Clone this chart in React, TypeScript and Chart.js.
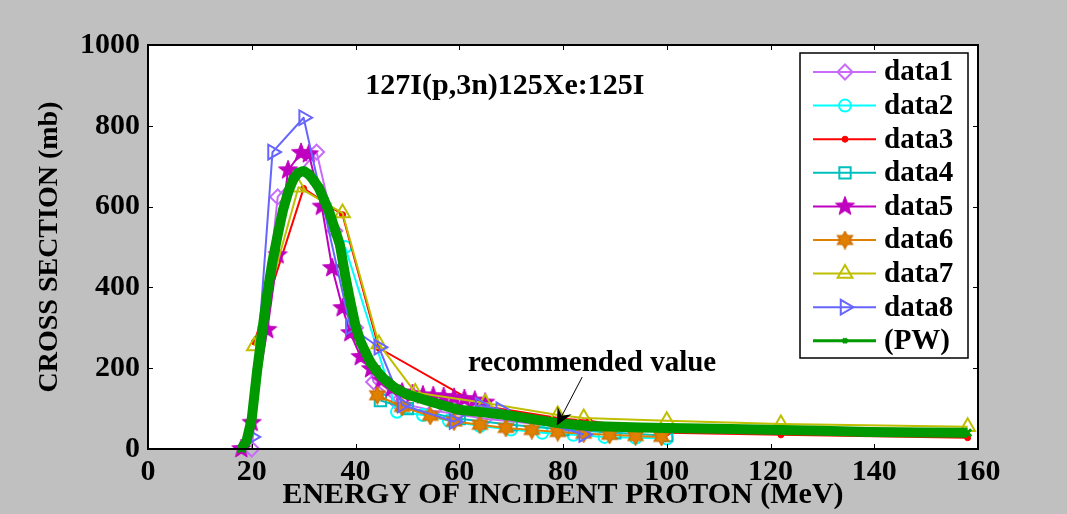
import React, { useEffect, useRef } from 'react';
import { Chart, registerables } from 'chart.js';
import { drawPoint } from 'chart.js/helpers';

Chart.register(...registerables);

const FONT = '"Liberation Serif", "Times New Roman", serif';

// ---------- data ----------
const xTicks = [0, 20, 40, 60, 80, 100, 120, 140, 160];
const yTicks = [0, 200, 400, 600, 800, 1000];

const seriesLabels = ['data1', 'data2', 'data3', 'data4', 'data5', 'data6', 'data7', 'data8', '(PW)'];
const chartTitle = '127I(p,3n)125Xe:125I';
const annotationText = 'recommended value';
const xAxisTitle = 'ENERGY OF INCIDENT PROTON (MeV)';
const yAxisTitle = 'CROSS SECTION (mb)';

const data1X = [20, 25, 32.5, 36, 40, 43.5, 48, 55, 65, 80];
const data1Y = [0, 624, 735, 540, 300, 166, 115, 95, 75, 55];

const data2X = [38, 48, 53, 58, 64, 70, 76, 82, 88, 94, 100];
const data2Y = [500, 92, 84, 70, 57, 48, 40, 35, 30, 28, 26];

const data3X = [20.5, 30, 37.5, 44.5, 64, 80, 85, 100, 122, 158];
const data3Y = [265, 645, 580, 250, 108, 75, 70, 40, 35, 28];

const data4X = [44.8, 50, 60, 70, 80, 90, 100];
const data4Y = [120, 100, 75, 60, 48, 40, 33];

const data5X = [18, 20, 23, 25, 27, 29.5, 31, 33.5, 35.5, 37.5, 39, 41, 43, 45, 47, 49, 51, 53, 55, 57, 59, 61, 63, 65];
const data5Y = [0, 65, 295, 480, 690, 733, 730, 600, 448, 349, 287, 228, 198, 170, 150, 140, 136, 133, 131, 129, 127, 124, 120, 115];

const data6X = [44.2, 49, 54.4, 59, 64, 69, 74, 79, 84, 89, 94, 99];
const data6Y = [133, 104, 82, 68, 60, 52, 47, 42, 38, 35, 32, 30];

const data7X = [20.5, 29, 37.5, 44.5, 51.5, 65, 79, 84, 100, 122, 158];
const data7Y = [255, 648, 584, 260, 140, 114, 84, 77, 70, 62, 55];

const data8X = [20, 24, 30, 39, 44.5, 49, 59, 64, 68, 84];
const data8Y = [30, 735, 820, 302, 252, 109, 68, 108, 97, 36];

const pwX = [18, 19, 20, 21, 22, 23, 24, 25, 26, 27, 28, 29, 30, 31, 32, 33, 34, 35, 36, 37, 38, 39, 40, 41, 42, 43, 44, 45, 46, 47, 48, 50, 52, 55, 58, 60, 65, 69, 75, 79, 85, 90, 95, 100, 110, 122, 130, 139, 150, 158];
const pwY = [0, 20, 75, 190, 290, 385, 465, 530, 590, 635, 668, 684, 688, 680, 664, 645, 615, 585, 545, 505, 430, 365, 305, 265, 238, 212, 195, 180, 168, 157, 148, 135, 127, 115, 104, 97, 90, 84, 72, 64, 57, 55, 53, 52, 50, 47, 45, 42, 41, 40];

// annotation anchor (data coords)
const titlePos = [68.8, 898];
const notePos = [85.6, 212];
const arrowFrom = [83.7, 178];
const arrowTo = [78.8, 58];

// ---------- marker images ----------
function starCanvas(points: number, size: number, outer: number, inner: number, fill: string | null, stroke: string | null, lw: number) {
  const c = document.createElement('canvas');
  c.width = size;
  c.height = size;
  const g = c.getContext('2d')!;
  const cx = size / 2, cy = size / 2;
  g.beginPath();
  for (let i = 0; i < points * 2; i++) {
    const r = i % 2 === 0 ? outer : inner;
    const a = -Math.PI / 2 + (i * Math.PI) / points;
    const px = cx + r * Math.cos(a), py = cy + r * Math.sin(a);
    if (i === 0) g.moveTo(px, py); else g.lineTo(px, py);
  }
  g.closePath();
  if (fill) { g.fillStyle = fill; g.fill(); }
  if (stroke) { g.strokeStyle = stroke; g.lineWidth = lw; g.stroke(); }
  return c;
}

const pentagram = starCanvas(5, 22, 10, 4.2, '#bf00bf', '#bf00bf', 1);
const hexagram = starCanvas(6, 19, 8.5, 4.8, '#e08000', '#d07000', 1.5);

const zip = (xs: number[], ys: number[]) => xs.map((x, i) => ({ x, y: ys[i] }));

function App() {
  const ref = useRef<HTMLCanvasElement | null>(null);

  useEffect(() => {
    if (!ref.current) return;
    const clear = 'rgba(0,0,0,0)';
    const base = (label: string, xs: number[], ys: number[], color: string, extra: any) => ({
      label,
      data: zip(xs, ys),
      borderColor: color,
      backgroundColor: color,
      borderWidth: 2,
      pointBorderColor: color,
      pointBackgroundColor: clear,
      pointBorderWidth: 2,
      pointRadius: 6,
      tension: 0,
      clip: false,
      ...extra,
    });

    const datasets: any[] = [
      base(seriesLabels[0], data1X, data1Y, '#c86bfa', { pointStyle: 'rectRot', pointRadius: 7.5 }),
      base(seriesLabels[1], data2X, data2Y, '#00ffff', { pointStyle: 'circle', pointRadius: 6 }),
      base(seriesLabels[2], data3X, data3Y, '#ff0000', { pointStyle: 'circle', pointRadius: 3, pointBackgroundColor: '#ff0000', pointBorderWidth: 1 }),
      base(seriesLabels[3], data4X, data4Y, '#00bfbf', { pointStyle: 'rect', pointRadius: 8 }),
      base(seriesLabels[4], data5X, data5Y, '#bf00bf', { pointStyle: pentagram, pointRadius: 10 }),
      base(seriesLabels[5], data6X, data6Y, '#e08000', { pointStyle: hexagram, pointRadius: 9 }),
      base(seriesLabels[6], data7X, data7Y, '#bfbf00', { pointStyle: 'triangle', pointRadius: 8.5 }),
      base(seriesLabels[7], data8X, data8Y, '#6666ff', { pointStyle: 'triangle', pointRotation: 90, pointRadius: 8.5 }),
      base(seriesLabels[8], pwX, pwY, '#009900', { pointStyle: 'crossRot', pointRadius: 5, pointBorderWidth: 3, borderWidth: 10, legendLineWidth: 3, legendRadius: 3 }),
    ];
    datasets.forEach((d, i) => { d.order = datasets.length - 1 - i; });

    const bgPlugin = {
      id: 'plotBg',
      beforeDatasetsDraw(chart: any) {
        const { ctx, chartArea: a } = chart;
        ctx.save();
        ctx.fillStyle = '#ffffff';
        ctx.fillRect(a.left, a.top, a.right - a.left, a.bottom - a.top);
        ctx.restore();
      },
    };

    const framePlugin = {
      id: 'frame',
      afterDatasetsDraw(chart: any) {
        const { ctx, chartArea: a, scales } = chart;
        ctx.save();
        ctx.strokeStyle = '#000';
        ctx.lineWidth = 1;
        const tl = 5;
        xTicks.forEach((v) => {
          const px = Math.round(scales.x.getPixelForValue(v)) + 0.5;
          ctx.beginPath();
          ctx.moveTo(px, a.bottom); ctx.lineTo(px, a.bottom - tl);
          ctx.moveTo(px, a.top); ctx.lineTo(px, a.top + tl);
          ctx.stroke();
        });
        yTicks.forEach((v) => {
          const py = Math.round(scales.y.getPixelForValue(v)) + 0.5;
          ctx.beginPath();
          ctx.moveTo(a.left, py); ctx.lineTo(a.left + tl, py);
          ctx.moveTo(a.right, py); ctx.lineTo(a.right - tl, py);
          ctx.stroke();
        });
        ctx.lineWidth = 2;
        ctx.strokeRect(a.left, a.top, a.right - a.left, a.bottom - a.top);

        // title inside plot
        ctx.fillStyle = '#000';
        ctx.font = `bold 30px ${FONT}`;
        ctx.textAlign = 'center';
        ctx.textBaseline = 'middle';
        ctx.fillText(chartTitle, scales.x.getPixelForValue(titlePos[0]), scales.y.getPixelForValue(titlePos[1]));

        // recommended value annotation
        ctx.font = `bold 29px ${FONT}`;
        ctx.fillText(annotationText, scales.x.getPixelForValue(notePos[0]), scales.y.getPixelForValue(notePos[1]));
        const x1 = scales.x.getPixelForValue(arrowFrom[0]);
        const y1 = scales.y.getPixelForValue(arrowFrom[1]);
        const x2 = scales.x.getPixelForValue(arrowTo[0]);
        const y2 = scales.y.getPixelForValue(arrowTo[1]);
        const ang = Math.atan2(y2 - y1, x2 - x1);
        const hl = 17, hw = 8, back = 11;
        ctx.lineWidth = 1;
        ctx.beginPath();
        ctx.moveTo(x1, y1);
        ctx.lineTo(x2 - back * Math.cos(ang), y2 - back * Math.sin(ang));
        ctx.stroke();
        const bx = x2 - hl * Math.cos(ang), by = y2 - hl * Math.sin(ang);
        const nx = -Math.sin(ang), ny = Math.cos(ang);
        ctx.beginPath();
        ctx.moveTo(x2, y2);
        ctx.lineTo(bx + hw * nx, by + hw * ny);
        ctx.lineTo(x2 - back * Math.cos(ang), y2 - back * Math.sin(ang));
        ctx.lineTo(bx - hw * nx, by - hw * ny);
        ctx.closePath();
        ctx.fill();
        ctx.restore();
      },
    };

    const legendPlugin = {
      id: 'matlabLegend',
      afterDraw(chart: any) {
        const { ctx, chartArea: a } = chart;
        const x0 = a.right - 178, y0 = a.top + 8, w = 168, h = 305;
        ctx.save();
        ctx.fillStyle = '#fff';
        ctx.fillRect(x0, y0, w, h);
        ctx.strokeStyle = '#000';
        ctx.lineWidth = 1.5;
        ctx.strokeRect(x0, y0, w, h);
        chart.data.datasets.forEach((ds: any, i: number) => {
          const y = y0 + 19 + i * 33.6;
          ctx.strokeStyle = ds.borderColor;
          ctx.lineWidth = ds.legendLineWidth || 2;
          ctx.beginPath();
          ctx.moveTo(x0 + 13, y);
          ctx.lineTo(x0 + 76, y);
          ctx.stroke();
          ctx.strokeStyle = ds.pointBorderColor;
          ctx.fillStyle = ds.pointBackgroundColor;
          ctx.lineWidth = ds.pointBorderWidth;
          drawPoint(ctx, {
            pointStyle: ds.pointStyle,
            rotation: ds.pointRotation || 0,
            radius: ds.legendRadius || ds.pointRadius,
            borderWidth: ds.pointBorderWidth,
          } as any, x0 + 45, y);
          ctx.fillStyle = '#000';
          ctx.font = `bold 29px ${FONT}`;
          ctx.textAlign = 'left';
          ctx.textBaseline = 'middle';
          ctx.fillText(ds.label, x0 + 84, y + 1);
        });
        ctx.restore();
      },
    };

    const chart = new Chart(ref.current, {
      type: 'line',
      data: { datasets },
      options: {
        animation: false,
        responsive: true,
        maintainAspectRatio: false,
        layout: { padding: { top: 45, right: 89, left: 0, bottom: 0 } },
        plugins: { legend: { display: false }, tooltip: { enabled: false }, title: { display: false } },
        elements: { line: { borderJoinStyle: 'round' as any } },
        scales: {
          x: {
            type: 'linear',
            min: 0,
            max: 160,
            afterBuildTicks: (s: any) => { s.ticks = xTicks.map((v) => ({ value: v })); },
            afterFit: (s: any) => { s.height = 65; },
            grid: { display: false, drawTicks: false },
            border: { display: false },
            ticks: { color: '#000', padding: 5, maxRotation: 0, autoSkip: false, callback: (v: any) => String(v), font: { family: FONT, size: 30, weight: 'bold' } },
            title: { display: true, text: xAxisTitle, color: '#000', padding: { top: 0, bottom: 1 }, font: { family: FONT, size: 30, weight: 'bold' } },
          },
          y: {
            type: 'linear',
            min: 0,
            max: 1000,
            afterBuildTicks: (s: any) => { s.ticks = yTicks.map((v) => ({ value: v })); },
            afterFit: (s: any) => { s.width = 148; },
            grid: { display: false, drawTicks: false },
            border: { display: false },
            ticks: { color: '#000', padding: 8, autoSkip: false, callback: (v: any) => String(v), font: { family: FONT, size: 30, weight: 'bold' } },
            title: { display: true, text: yAxisTitle, color: '#000', padding: { top: 33, bottom: 0 }, font: { family: FONT, size: 28, weight: 'bold' } },
          },
        },
      } as any,
      plugins: [bgPlugin, framePlugin, legendPlugin],
    });
    return () => chart.destroy();
  }, []);

  return (
    <div style={{ position: 'absolute', left: 0, top: 0, width: 1067, height: 514, background: '#c0c0c0' }}>
      <canvas ref={ref} />
    </div>
  );
}

export default App;
